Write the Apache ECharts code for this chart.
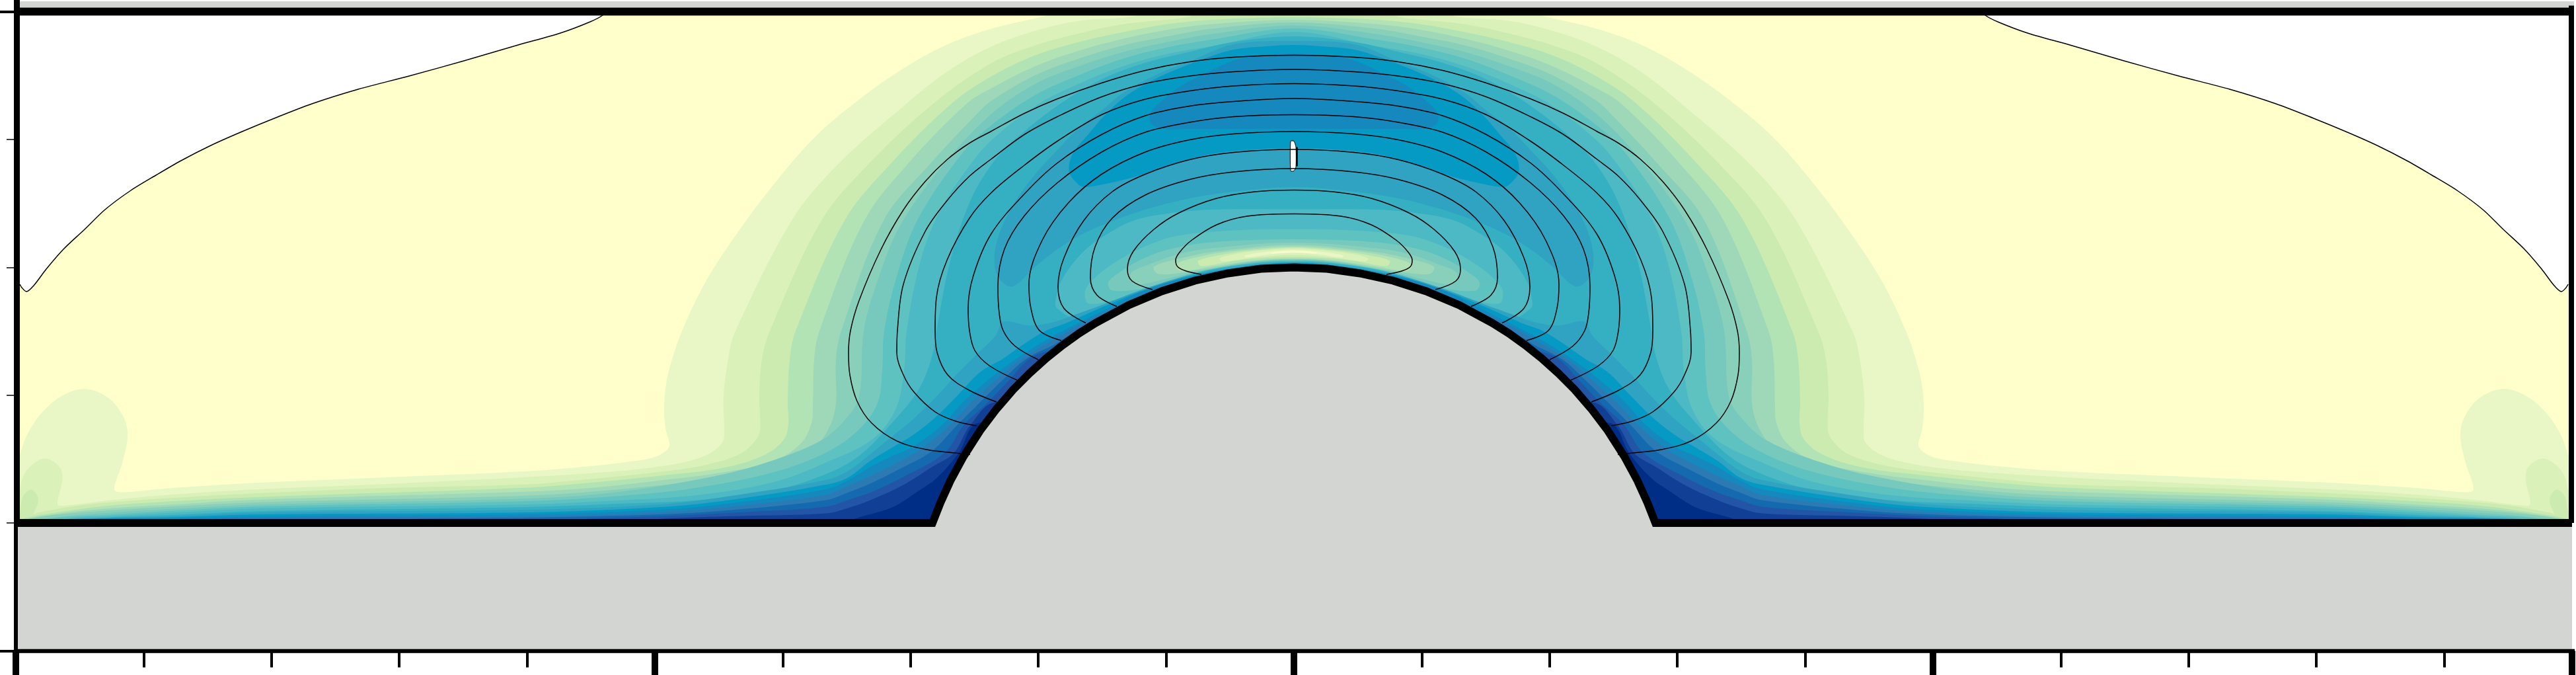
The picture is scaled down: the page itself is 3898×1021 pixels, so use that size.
<!DOCTYPE html>
<html><head><meta charset="utf-8">
<style>html,body{margin:0;padding:0;background:#fff}#c{width:3898px;height:1021px}</style>
<script src="https://cdn.jsdelivr.net/npm/echarts@6/dist/echarts.min.js"></script>
</head><body><div id="c"></div>
<script>
// All arrays are left halves in axis units; the field is mirrored about x = 0.
const levelColors = ['#FFFFCC','#E9F7C7','#DBF1BA','#CCEBB0','#B2E3B4','#9FD8B8','#89D0BA','#77C9BD','#5DC2C0','#4DB9C4','#35AFC2','#30A3C2','#049AC4','#1588BE','#2C7AB3','#1469AF','#2255A5','#113F96','#002D85'];

const freeSurface = [[-1040,970],[-1046,961.5],[-1065,951.5],[-1110,934.5],[-1174,916.5],[-1256,892.5],[-1339,869.5],[-1416,849.5],[-1486,827.5],[-1543,805.5],[-1594,784.5],[-1639,764.5],[-1684,741.5],[-1722,719.5],[-1760,696.5],[-1799,667.5],[-1830,637.5],[-1862,607.5],[-1888,577.5],[-1907,552.5],[-1918,543.5],[-1925,549.5],[-1928,554.5]];

const level1 = [[-360,968],[-375,961],[-458,941],[-525,917],[-591,881],[-658,834],[-725,777],[-791,701],[-848,624],[-891,557],[-926,484],[-941,441],[-950,404],[-953,367],[-951,337],[-945,312],[-951,302],[-971,292],[-1008,286],[-1058,280],[-1158,272],[-1384,262],[-1575,254],[-1703,246],[-1773,240],[-1785,244],[-1773,284],[-1765,324],[-1770,351],[-1792,381],[-1827,396],[-1862,387],[-1894,361],[-1917,327],[-1928,297],[-1934,280],[-1934,195]];
const level2 = [[-235,968],[-241,960],[-325,953],[-391,938],[-458,914],[-525,876],[-586,828],[-691,735],[-760,651],[-845,484],[-855,448],[-863,385],[-862,328],[-865,315],[-885,298],[-925,285],[-991,275],[-1075,268],[-1158,263],[-1193,261],[-1384,252],[-1575,244],[-1703,236],[-1799,227],[-1862,219.5],[-1871,222],[-1864,257],[-1867,277],[-1889,291],[-1910,281],[-1923,264],[-1928,244],[-1934,230],[-1934,195]];
const level3 = [[-150,966],[-158,959],[-258,948],[-325,934],[-391,916],[-458,889],[-548,826],[-646,734],[-715,651],[-793,484],[-805,441],[-809,385],[-808,334],[-815,318],[-838,298],[-891,281],[-975,269],[-1075,259],[-1158,252],[-1384,246],[-1575,238],[-1703,231],[-1830,221],[-1901,209],[-1907,207],[-1900,226],[-1904,239],[-1912,244],[-1923,234],[-1928,211],[-1934,200],[-1934,195]];
const level4 = [[0,958.5],[-25,958.5],[-125,954.5],[-191,948],[-258,936],[-325,921],[-391,901],[-458,869],[-518,828],[-611,736],[-680,651],[-754,484],[-763,441],[-766,375],[-765,345],[-771,321],[-798,298],[-858,278],[-958,265],[-1058,255],[-1158,247],[-1558,233],[-1703,226],[-1799,219],[-1875,209],[-1920,201],[-1930,195]];
const level5 = [[0,954.5],[-125,948],[-191,939.5],[-258,926],[-325,908],[-391,884.5],[-458,851],[-495,828],[-583,738],[-650,651],[-718,484],[-726,441],[-728,371],[-730,345],[-745,315],[-785,288],[-858,271],[-958,258],[-1058,247],[-1158,241],[-1558,229],[-1703,221],[-1799,215],[-1881,206],[-1925,196]];
const level6 = [[0,950.5],[-125,941],[-191,929.5],[-258,916],[-325,896],[-391,871],[-458,832],[-476,816],[-553,734],[-621,651],[-685,484],[-693,441],[-694,367],[-711,324],[-738,298],[-791,271],[-891,258],[-1025,244],[-1158,235],[-1558,225],[-1703,218],[-1799,212],[-1888,204],[-1925,196]];
const level7 = [[0,946],[-125,933],[-191,921],[-258,906],[-325,884.5],[-391,858],[-458,812],[-525,742],[-595,645],[-630,560],[-651,484],[-658,385],[-678,351],[-716,318],[-798,285],[-878,264],[-1025,240],[-1158,230.5],[-1558,221.5],[-1703,214.5],[-1799,208.5],[-1862,203.5],[-1915,196]];
const level8 = [[0,941.5],[-125,924.5],[-191,913],[-258,896],[-325,871],[-391,841],[-458,795],[-500,755],[-568,655],[-600,570],[-620,484],[-623,424],[-630,375],[-658,335],[-708,300],[-788,270],[-908,246],[-1025,234],[-1158,226.5],[-1558,218.5],[-1703,211.5],[-1799,205.5],[-1875,201],[-1900,194]];
const level9 = [[0,936],[-125,914.5],[-191,903],[-258,884.5],[-325,858],[-391,824.5],[-458,772],[-490,735],[-536,665],[-565,590],[-586,484],[-590,424],[-603,365],[-638,320],[-708,285],[-788,255],[-908,235],[-1025,227.5],[-1158,221.5],[-1558,215.5],[-1703,208.5],[-1799,203.5],[-1848,201],[-1880,194]];
const level10 = [[0,929.5],[-91,921],[-158,906],[-225,889.5],[-291,864.5],[-358,824.5],[-425,771],[-458,735],[-490,680],[-520,590],[-541,484],[-548,444],[-568,395],[-608,345],[-658,295],[-708,267.5],[-788,242.5],[-908,227.5],[-1025,222.5],[-1158,217.5],[-1558,211.5],[-1703,205.5],[-1799,201.5],[-1870,194]];

const archLevel11 = [[0,922.5],[-91,917.5],[-158,891.5],[-208,871.5],[-258,844.5],[-291,817.5],[-325,791.5],[-358,757.5],[-391,721.5],[-425,674.5],[-448,624.5],[-453,584.5],[-443,559.5],[-425,551.5],[-391,581.5],[-358,607.5],[-318,631.5],[-271,651.5],[-225,667.5],[-158,684.5],[-91,694.5],[0,701.5]];
const archLevel12 = [[0,916.5],[-41,914.5],[-91,909.5],[-125,899.5],[-158,887.5],[-205,867.5],[-251,841.5],[-285,811.5],[-311,781.5],[-335,751.5],[-340,724.5],[-325,704.5],[-315,701.5],[-271,709.5],[-225,721.5],[-175,737.5],[-125,751.5],[-58,758.5],[0,760.5]];
const archLevel13 = [[0,903.5],[-25,902.5],[-75,897.5],[-105,887.5],[-138,871.5],[-171,854.5],[-205,827.5],[-218,811.5],[-215,796.5],[-195,789.5],[-158,789.5],[-80,789.5],[0,789.5]];

const hollow9 = [[0,668],[-125,667.5],[-191,661.5],[-241,651.5],[-281,631.5],[-318,604.5],[-351,561.5],[-361,527.5],[-358,517.5],[-331,504.5],[-250,542],[-150,572.5],[-60,586],[0,588.5]];
const hollow8 = [[0,638],[-91,636],[-175,628],[-225,612],[-271,587.5],[-301,564.5],[-316,544.5],[-310,525],[-250,537],[-150,571],[-60,586.5],[0,589.5]];
const hollow7 = [[0,622.5],[-125,618],[-191,607],[-231,592],[-261,574.5],[-281,557.5],[-275,545],[-225,549],[-150,572],[-60,587.5],[0,590.5]];
const hollow6 = [[0,617.5],[-125,609],[-175,600],[-218,585],[-247,571],[-240,555],[-200,561],[-150,573],[-60,588.5],[0,591.5]];
const hollow5 = [[0,614],[-125,603],[-175,593],[-212,581],[-205,570],[-150,575],[-60,589.5],[0,592.5]];
const hollow4 = [[0,611.5],[-90,605],[-140,597],[-178,585],[-172,575],[-120,582],[-60,590.5],[0,593.5]];
const hollow3 = [[0,610],[-70,605],[-115,598],[-145,590],[-140,582],[-90,590],[-40,594.5],[0,595.5]];
const hollow2 = [[0,608.5],[-55,605],[-90,600],[-112,594],[-108,589],[-60,595],[0,598.5]];
const hollow1 = [[0,606.5],[-40,604],[-75,598],[-72,595],[-35,600],[0,601.5]];
const hollow0 = [[0,605],[-32,603],[-34,601],[0,603]];

const wall11 = [[0,587.5],[-142,571.5],[-225,548],[-291,523],[-330,509],[-365,497],[-400,492],[-440,498],[-451,477.5],[-481,447.5],[-511,417.5],[-541,384.5],[-575,351.5],[-608,324.5],[-641,297.5],[-675,272],[-708,258.5],[-858,233.5],[-958,221.5],[-1158,213.5],[-1558,209.5],[-1703,203.5],[-1858,199],[-1858,195]];
const wall12 = [[0,587],[-142,570],[-225,546],[-291,519.5],[-325,504.5],[-348,494.5],[-375,484.5],[-408,464.5],[-441,441.5],[-475,421.5],[-508,387.5],[-541,354.5],[-575,327.5],[-608,307.5],[-641,287.5],[-675,262],[-708,251.5],[-858,227.5],[-958,217.5],[-1158,209.5],[-1558,206.5],[-1703,202],[-1830,199],[-1830,195]];
const wall13 = [[0,570],[-150,566],[-225,546],[-280,519],[-330,494],[-375,470],[-421,441],[-463,409.5],[-501,376],[-533,341],[-578,308],[-608,294.5],[-641,278],[-675,258],[-708,244.5],[-858,222.5],[-958,213.5],[-1158,206.5],[-1558,203.5],[-1700,199],[-1700,195]];
const wall14 = [[0,540],[-280,512],[-320,495],[-370,467],[-413,441],[-451,409.5],[-488,376],[-521,341],[-565,304.5],[-601,284.5],[-641,264.5],[-675,249.5],[-708,236],[-858,217.5],[-958,209.5],[-1158,203.5],[-1558,201.5],[-1640,199],[-1640,195]];
const wall15 = [[0,520],[-330,480],[-365,462],[-406,441],[-441,409.5],[-475,376],[-510,341],[-548,302],[-598,274.5],[-641,253],[-675,239.5],[-708,228],[-858,212.5],[-958,206.5],[-1158,201.5],[-1350,199],[-1350,195]];
const wall16 = [[0,500],[-370,453],[-401,441],[-431,409.5],[-463,376],[-500,341],[-528,300],[-591,263],[-641,239.5],[-675,228],[-708,218],[-858,208.5],[-958,203.5],[-1081,199],[-1081,195]];
const wall17 = [[0,376],[-451,376],[-490,341],[-515,299],[-548,278],[-591,251],[-641,228],[-675,216],[-708,208],[-858,203.5],[-968,199],[-968,195]];
const wall18 = [[0,345],[-476,345],[-508,298],[-541,261],[-568,242],[-608,217],[-665,199.5],[-665,195]];

const hillOutline = [[0,580],[-50,578],[-100,571],[-150,560],[-200,544],[-250,523],[-300,496],[-325,480.4],[-350,462.5],[-375,442.5],[-400,420],[-425,395],[-450,366],[-475,333],[-500,294],[-520,257],[-535,224],[-547,193.4],[-1934,193.4]];

const contour1 = [[0,901],[-91,898],[-158,891],[-225,878],[-291,859],[-358,835],[-408,813],[-458,786],[-491,768],[-525,743],[-558,710],[-591,667],[-625,607],[-658,530],[-671,484.5],[-674,451.5],[-672,417.5],[-661,377.5],[-639,344.5],[-601,317.5],[-556,304.5],[-505,298.5],[-490,297]];
const contour2 = [[0,879.5],[-91,876],[-158,869.5],[-225,858],[-291,838],[-358,808],[-408,781],[-458,744],[-491,718],[-525,681],[-558,634.5],[-591,554.5],[-600,484.5],[-601,451.5],[-591,417.5],[-575,391.5],[-543,361.5],[-512,347.5],[-480,340.5]];
const contour3 = [[0,858],[-91,854.5],[-158,847],[-225,834.5],[-291,811],[-358,771],[-408,734.5],[-458,693],[-491,654.5],[-525,591],[-541,534.5],[-543,484.5],[-540,451.5],[-524,417.5],[-492,394.5],[-450,376.5]];
const contour4 = [[0,835.5],[-91,831],[-158,824],[-225,809.5],[-291,781],[-358,738],[-408,691],[-458,631],[-485,568],[-493,518],[-491,484.5],[-483,454.5],[-461,431.5],[-419,409.5]];
const contour5 = [[0,811],[-91,808],[-158,799.5],[-225,784.5],[-291,754.5],[-358,708],[-408,658],[-438,608],[-448,551],[-446,511],[-440,484.5],[-422,461],[-387,440.5]];
const contour6 = [[0,785.5],[-91,782],[-158,773],[-225,754.5],[-291,721],[-341,678],[-381,621],[-401,554.5],[-398,518],[-385,484.5],[-352,469.5]];
const contour7 = [[0,758.5],[-91,754],[-158,743],[-225,721],[-275,694.5],[-318,651],[-348,594.5],[-357,551],[-348,518],[-315,496]];
const contour8 = [[0,729.5],[-91,724.5],[-158,713],[-225,689.5],[-275,654.5],[-301,611],[-308,564.5],[-298,538],[-268,521]];
const contour9 = [[0,697],[-59,694.5],[-117,684.5],[-174,662.5],[-212,637.5],[-243,604.5],[-252,577.5],[-245,559.5],[-214,546.5]];
const contour10 = [[0,661],[-71,657.5],[-117,644.5],[-155,621],[-173,603],[-179,591],[-176,581],[-163,574.5],[-140,569.5]];

const whiteMark = [[-5,771],[0,771],[3,762],[3,732],[0,726],[-5,726]];
const groundColor = '#D3D5D3';

const mirrorClosed = half => {
  const back = half.slice().reverse().filter(p => p[0] !== 0).map(p => [-p[0], p[1]]);
  return half.concat(back);
};
const mirrorOpen = half => half.slice().reverse().map(p => [-p[0], p[1]]).concat(half.filter(p => p[0] !== 0).map(p => [p[0], p[1]]));

const baseShape = freeSurface.concat([[-1928,195]]);
const fills = [
  [baseShape, levelColors[0]], [level1, levelColors[1]], [level2, levelColors[2]], [level3, levelColors[3]],
  [level4, levelColors[4]], [level5, levelColors[5]], [level6, levelColors[6]], [level7, levelColors[7]],
  [level8, levelColors[8]], [level9, levelColors[9]], [level10, levelColors[10]],
  [archLevel11, levelColors[11]], [archLevel12, levelColors[12]], [archLevel13, levelColors[13]],
  [hollow9, levelColors[9]], [hollow8, levelColors[8]], [hollow7, levelColors[7]], [hollow6, levelColors[6]],
  [hollow5, levelColors[5]], [hollow4, levelColors[4]], [hollow3, levelColors[3]], [hollow2, levelColors[2]],
  [hollow1, levelColors[1]], [hollow0, '#F8FBCA'],
  [wall11, levelColors[11]], [wall12, levelColors[12]], [wall13, levelColors[13]], [wall14, levelColors[14]],
  [wall15, levelColors[15]], [wall16, levelColors[16]], [wall17, levelColors[17]], [wall18, levelColors[18]]
].map(f => ({pts: mirrorClosed(f[0]), color: f[1], smooth: 0.35}));

const hillRing = mirrorOpen(hillOutline);
const groundFill = [{pts: [[-1931,2.5],[-1931,193.4]].concat(hillRing.slice(1, hillRing.length - 1)).concat([[1934,193.4],[1934,2.5]]), color: groundColor, smooth: 0}];
const topStrip = {pts: [[-1931,973],[1937,973],[1937,982.5],[-1931,982.5]], color: groundColor, smooth: 0};
const mark = {pts: whiteMark, color: '#FFFFFF', smooth: 0.2, stroke: '#000', lw: 1};

const polySeries = (list, clip) => ({
  type: 'custom', coordinateSystem: 'cartesian2d', clip: !!clip, silent: true, animation: false,
  encode: {x: 0, y: 1},
  data: list.map(f => f.pts[0]),
  renderItem: (params, api) => {
    const f = list[params.dataIndex];
    return {type: 'polygon', shape: {points: f.pts.map(p => api.coord(p)), smooth: f.smooth},
      style: {fill: f.color, stroke: f.stroke || null, lineWidth: f.lw || 0}};
  }
});
const lineSeries = (data, width, smooth, color, join) => ({
  type: 'line', data, clip: false, silent: true, animation: false, showSymbol: false, symbol: 'none',
  smooth: smooth, lineStyle: {color: color || '#000', width, join: join || 'miter', cap: 'butt'}
});

const series = [
  polySeries(fills, true),
  lineSeries(mirrorOpen(freeSurface), 1.5, 0.3),
  ...[contour1,contour2,contour3,contour4,contour5,contour6,contour7,contour8,contour9,contour10].map(c => lineSeries(mirrorOpen(c), 1.5, 0.35)),
  polySeries([mark]),
  lineSeries([[4.5,762],[4.5,733]], 2.5, false),
  polySeries(groundFill),
  polySeries([topStrip]),
  lineSeries(hillRing, 12, false),
  lineSeries([[-1934,967],[1937,967]], 12, false),
  lineSeries([[-1932.5,193.4],[-1932.5,984.5]], 9, false),
  lineSeries([[1933,193.4],[1933,976]], 8, false),
  lineSeries([[-1958,0],[1940,0]], 5.5, false)
];

const chart = echarts.init(document.getElementById('c'), null, {renderer: 'canvas'});
chart.setOption({
  animation: false, backgroundColor: '#fff',
  grid: {left: 24, top: 17.5, width: 3868, height: 967, containLabel: false, outerBoundsMode: 'none'},
  xAxis: {type: 'value', min: -1934, max: 1934, interval: 967, splitLine: {show: false}, axisLabel: {show: false},
    axisLine: {show: true, onZero: false, lineStyle: {color: '#000', width: 5.5}},
    axisTick: {show: true, length: 40, lineStyle: {color: '#000', width: 10}},
    minorTick: {show: true, splitNumber: 5, length: 25, lineStyle: {color: '#000', width: 4}}, minorSplitLine: {show: false}},
  yAxis: {type: 'value', min: 0, max: 967, interval: 967, splitLine: {show: false}, axisLabel: {show: false},
    axisLine: {show: true, onZero: false, lineStyle: {color: '#000', width: 6}},
    axisTick: {show: true, length: 24, lineStyle: {color: '#000', width: 4}},
    minorTick: {show: true, splitNumber: 5, length: 14, lineStyle: {color: '#000', width: 1.5}}, minorSplitLine: {show: false}},
  series
});
</script></body></html>
